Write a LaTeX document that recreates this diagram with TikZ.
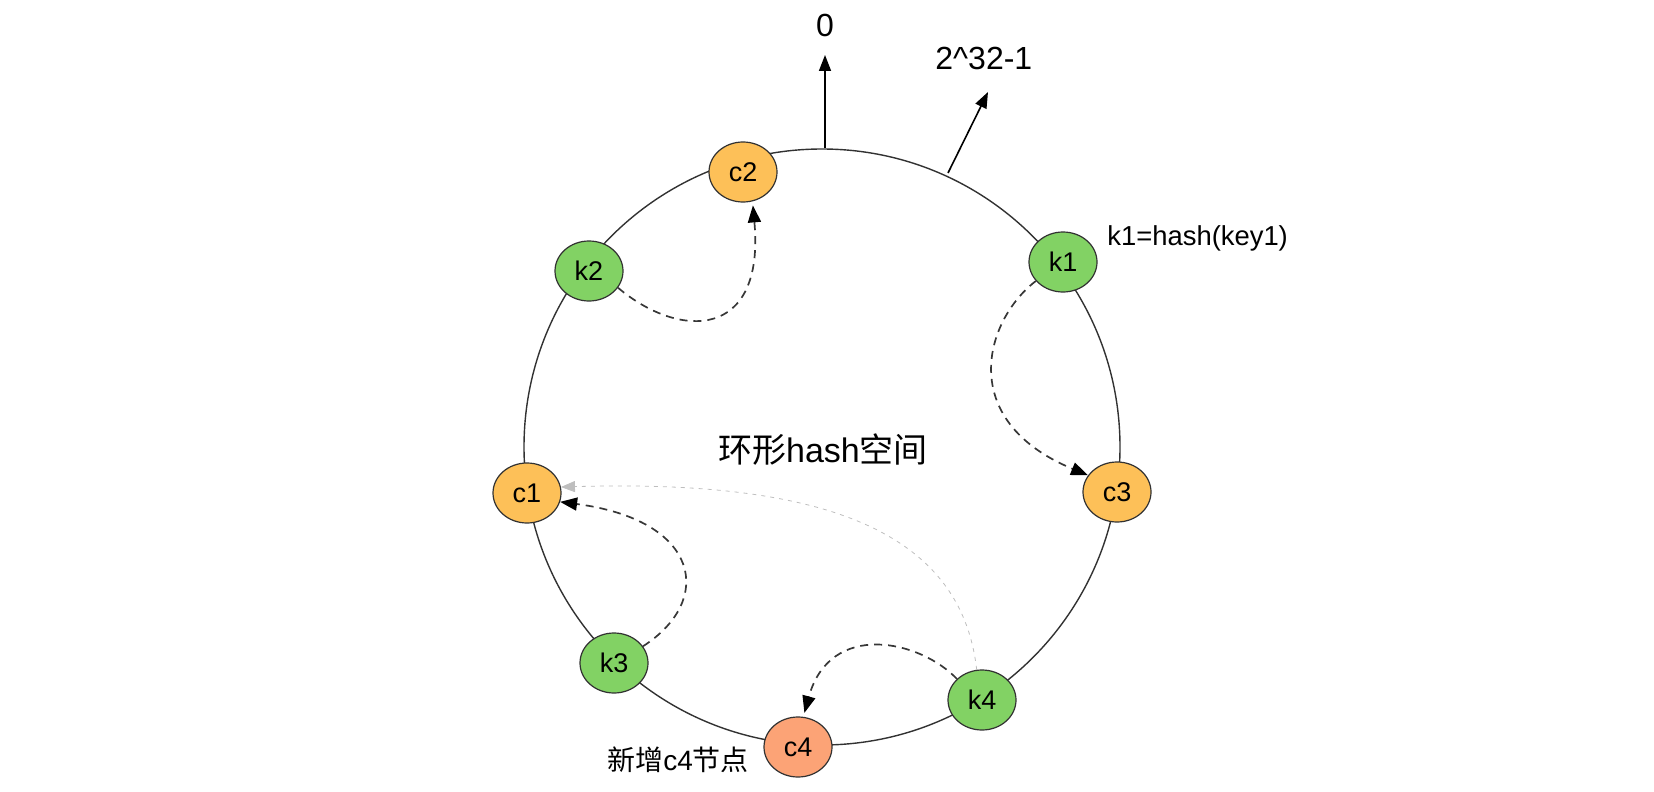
\documentclass[tikz,border=0pt]{standalone}
\usepackage{fontspec}
\setmainfont{Liberation Sans}
\newfontfamily\cjk{Noto Sans CJK SC}
\usetikzlibrary{shapes.geometric,arrows.meta}
\definecolor{corange}{RGB}{253,192,88}
\definecolor{kgreen}{RGB}{130,210,100}
\definecolor{csalmon}{RGB}{252,163,118}
\definecolor{ringgray}{RGB}{50,50,50}
\definecolor{dashgray}{RGB}{55,55,55}
\definecolor{lightgray}{RGB}{190,190,190}
\tikzset{
  hnode/.style={ellipse, draw=ringgray, line width=0.6pt, minimum width=34pt, minimum height=30pt, inner sep=0pt, font=\fontsize{13.5}{15}\selectfont},
  cnode/.style={hnode, fill=corange},
  knode/.style={hnode, fill=kgreen},
  newnode/.style={hnode, fill=csalmon},
  maparrow/.style={draw=dashgray, line width=0.85pt, dash pattern=on 4pt off 3pt, -{Triangle[length=8.5pt,width=6.5pt,color=black]}},
  oldarrow/.style={draw=lightgray, line width=0.4pt, dash pattern=on 2pt off 2.5pt, -{Triangle[length=7pt,width=5.5pt,color=lightgray]}},
  axisarrow/.style={draw=black, line width=0.8pt, -{Triangle[length=8pt,width=6pt]}},
}
\begin{document}
\begin{tikzpicture}[x=0.5pt,y=-0.5pt]
\useasboundingbox (0,0) rectangle (1654,792);
% ring
\draw[ringgray, line width=0.7pt] (822,447) circle[radius=149pt];
% axis markers
\coordinate (zerobase) at (825,148);
\coordinate (zerotip) at (825,55);
\coordinate (maxbase) at (948,173);
\coordinate (maxtip) at (988,92);
\node[font=\fontsize{16}{18}\selectfont] (zero) at (825,25) {0};
\node[font=\fontsize{16}{18}\selectfont, anchor=west, inner sep=0pt] (maxlabel) at (935,58) {2\^{}32-1};
\draw[axisarrow] (zerobase) -- (zerotip);
\draw[axisarrow] (maxbase) -- (maxtip);
% nodes
\node[cnode] (c2) at (743,172) {c2};
\node[knode] (k2) at (589,271) {k2};
\node[knode] (k1) at (1063,262) {k1};
\node[cnode] (c1) at (527,493) {c1};
\node[cnode] (c3) at (1117,492) {c3};
\node[knode] (k3) at (614,663) {k3};
\node[newnode] (c4) at (798,747) {c4};
\node[knode] (k4) at (982,700) {k4};
% labels
\node[font=\fontsize{13.7}{15}\selectfont, anchor=west, inner sep=0pt] (k1label) at (1107,238) {k1=hash(key1)};
\node[font=\fontsize{17}{19}\selectfont] (ringlabel) at (823,450) {{\cjk 环形}hash{\cjk 空间}};
\node[font=\fontsize{14}{16}\selectfont, anchor=west, inner sep=0pt] (c4label) at (607,760) {{\cjk 新增}c4{\cjk 节点}};
% mappings
\draw[maparrow, shorten >=2pt] (k2.-30) .. controls (680,340) and (765,340) .. (c2.-72);
\draw[maparrow] (k1.-145) .. controls (985,320) and (955,420) .. (c3.150);
\draw[maparrow] (k3.30) .. controls (715,600) and (700,520) .. (c1.-15);
\draw[maparrow, shorten >=2pt] (k4.140) .. controls (920,640) and (830,620) .. (c4.80);
\draw[oldarrow] (k4.100) .. controls (960,520) and (800,480) .. (c1.10);
\end{tikzpicture}
\end{document}
